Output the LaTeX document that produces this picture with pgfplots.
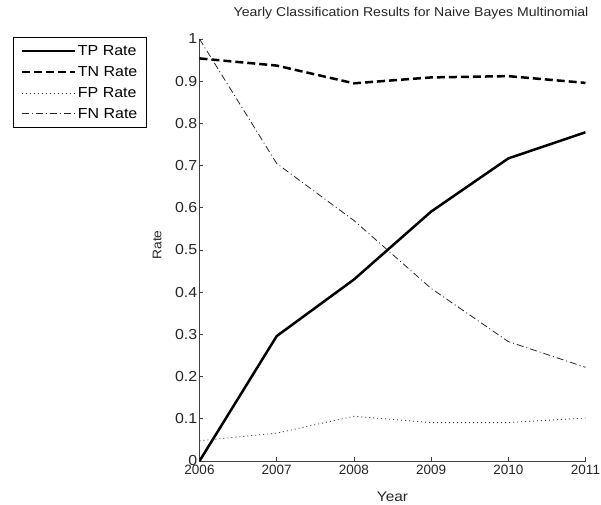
\documentclass[border=0pt]{standalone}
\usepackage{fontspec}
\setmainfont{Liberation Sans}[FakeStretch=1.1]
\newfontfamily\tickfont{Liberation Sans}
\usepackage{pgfplots}
\pgfplotsset{compat=1.18}
\begin{document}
\begin{tikzpicture}[x=1pt,y=1pt]
\useasboundingbox (-199.5,-43) rectangle (401.5,461);
\begin{axis}[
  at={(0,0)}, anchor=south west,
  scale only axis, width=386pt, height=422pt,
  axis lines*=left,
  xmin=2006, xmax=2011, ymin=0, ymax=1,
  xtick={2006,2007,2008,2009,2010,2011},
  ytick={0,0.1,0.2,0.3,0.4,0.5,0.6,0.7,0.8,0.9,1},
  tick align=inside, major tick length=4pt,
  tick style={color=black!75, line width=0.8pt},
  axis line style={color=black!75, line width=0.8pt},
  ticklabel style={color=black!85},
  yticklabel style={inner xsep=2pt, inner ysep=0pt, font=\fontsize{14.5}{17}\selectfont},
  xticklabel style={inner xsep=1pt, inner ysep=4pt, font=\tickfont\fontsize{13.5}{16}\selectfont},
  /pgf/number format/assume math mode=true,
  /pgf/number format/1000 sep={},
  title={Yearly Classification Results for Naive Bayes Multinomial},
  title style={at={(axis description cs:0.548,1.064)}, anchor=center, yshift=-7pt, font=\fontsize{12.8}{14}\selectfont, color=black!85},
  xlabel={Year},
  xlabel style={at={(axis description cs:0.5,-0.085)}, anchor=center, font=\fontsize{14}{16}\selectfont, color=black!85},
  ylabel={Rate},
  ylabel style={at={(axis description cs:-0.11,0.512)}, anchor=center, font=\fontsize{12.5}{14}\selectfont, color=black!85},
  legend cell align=left,
  legend image code/.code={\draw[#1] (0pt,0pt) -- (53pt,0pt);},
  legend style={at={(-0.483,1.004)}, anchor=north west, draw=black, line width=0.8pt,
    font=\fontsize{14.5}{16}\selectfont, row sep=5.5pt, inner xsep=7pt, inner ysep=5.5pt,
    /tikz/every even column/.append style={column sep=3pt}},
]
\addplot[black, line width=2.5pt] coordinates {(2006,0) (2007,0.296) (2008,0.43) (2009,0.591) (2010,0.717) (2011,0.779)};
\addlegendentry{TP Rate}
\addplot[black, line width=2.5pt, dash pattern=on 8pt off 4pt] coordinates {(2006,0.954) (2007,0.937) (2008,0.895) (2009,0.909) (2010,0.912) (2011,0.896)};
\addlegendentry{TN Rate}
\addplot[black!80, line width=0.8pt, dash pattern=on 1pt off 3pt] coordinates {(2006,0.048) (2007,0.066) (2008,0.106) (2009,0.091) (2010,0.091) (2011,0.102)};
\addlegendentry{FP Rate}
\addplot[black!85, line width=0.8pt, dash pattern=on 7pt off 3pt on 1pt off 3pt] coordinates {(2006,1.0) (2007,0.705) (2008,0.57) (2009,0.409) (2010,0.283) (2011,0.222)};
\addlegendentry{FN Rate}
\end{axis}
\end{tikzpicture}
\end{document}
